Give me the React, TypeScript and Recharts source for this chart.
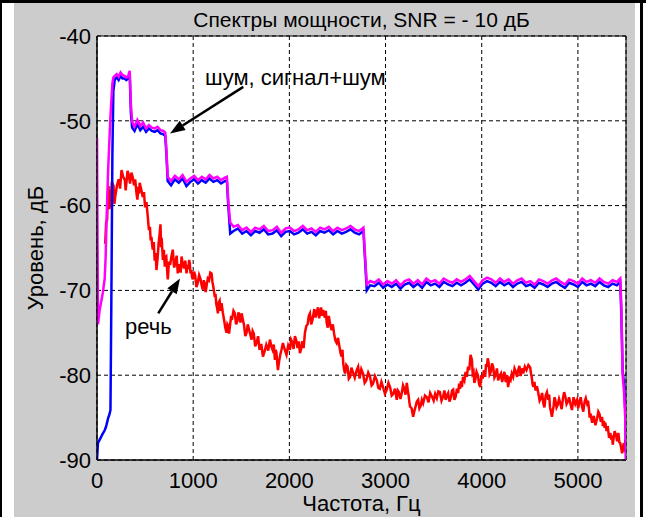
import React from "react";
import {
  LineChart,
  Line,
  XAxis,
  YAxis,
  CartesianGrid,
  ReferenceArea,
  ReferenceLine,
  ReferenceDot,
} from "recharts";

// Оси
const xTicks = [0, 1000, 2000, 3000, 4000, 5000];
const yTicks = [-90, -80, -70, -60, -50, -40];

// Частоты для шума и смеси (Гц)
const noiseFreq = [
  0, 10, 28, 60, 80, 90, 100, 115, 130, 140,
  150, 160, 170, 185, 205, 225, 245, 265, 285, 305,
  325, 340, 352, 365, 390, 420, 450, 480, 510, 540,
  570, 600, 630, 660, 690, 710, 722, 735, 770, 810,
  850, 890, 930, 970, 1010, 1050, 1090, 1130, 1170, 1210,
  1250, 1290, 1330, 1350, 1365, 1385, 1420, 1465, 1510, 1555,
  1600, 1645, 1690, 1735, 1780, 1825, 1870, 1915, 1960, 2005,
  2050, 2095, 2140, 2185, 2230, 2275, 2320, 2365, 2410, 2455,
  2500, 2545, 2590, 2635, 2680, 2725, 2770, 2785, 2805, 2840,
  2885, 2930, 2975, 3020, 3065, 3110, 3155, 3200, 3245, 3290,
  3335, 3380, 3425, 3470, 3515, 3560, 3605, 3650, 3695, 3740,
  3785, 3830, 3875, 3920, 3965, 4010, 4055, 4100, 4145, 4190,
  4235, 4280, 4325, 4370, 4415, 4460, 4505, 4550, 4595, 4640,
  4685, 4730, 4775, 4820, 4865, 4910, 4955, 5000, 5045, 5090,
  5135, 5180, 5225, 5270, 5315, 5360, 5405, 5440, 5452, 5465,
  5480, 5492, 5500,
];

// Шум (синий), дБ
const noiseDb = [
  -90, -88, -87.6, -86.9, -86.5, -86.2, -85.8, -85.1, -84.6, -84.1,
  -70, -54, -46.5, -45.1, -44.9, -45.2, -44.7, -45.0, -45.0, -45.2,
  -45.0, -44.5, -49, -50.8, -51.2, -50.4, -51.1, -50.7, -51.3, -50.9,
  -51.2, -51.3, -51.1, -51.5, -51.6, -51.8, -54, -57.1, -57.6, -56.9,
  -57.3, -56.8, -57.7, -57.2, -56.9, -57.4, -57.0, -57.3, -56.8, -57.2,
  -57.0, -57.4, -57.1, -57.0, -60, -63.3, -63.0, -62.7, -63.3, -63.0,
  -63.5, -63.0, -63.2, -62.8, -63.4, -63.3, -62.9, -63.6, -63.1, -63.0,
  -63.4, -63.2, -62.8, -63.3, -63.1, -63.5, -63.0, -63.2, -62.9, -63.4,
  -63.0, -63.3, -63.1, -62.8, -63.2, -63.4, -63.0, -66, -70.0, -69.4,
  -69.5, -69.1, -69.7, -69.3, -69.6, -69.2, -69.8, -69.3, -69.1, -69.6,
  -69.2, -69.7, -69.0, -69.4, -69.2, -69.6, -69.0, -69.3, -69.5, -69.1,
  -69.4, -69.1, -68.7, -69.3, -69.9, -69.2, -68.9, -69.1, -69.5, -69.0,
  -69.4, -69.1, -69.6, -69.2, -69.0, -69.5, -69.3, -69.7, -69.1, -69.3,
  -69.6, -69.2, -69.0, -69.4, -69.7, -69.1, -69.3, -69.6, -69.0, -69.4,
  -69.2, -69.5, -69.0, -69.4, -69.6, -69.2, -69.4, -69.0, -73, -79.5,
  -81, -84, -90,
];

// Сигнал+шум (пурпурный), дБ
const mixDb = [
  -52, -74, -72.3, -70.3, -68.6, -66, -61.5, -56, -52, -49.5,
  -47.5, -45.6, -44.9, -44.7, -44.5, -44.8, -44.3, -44.6, -44.7, -44.9,
  -44.7, -44.1, -48, -50.1, -50.7, -49.9, -50.6, -50.2, -50.9, -50.5,
  -50.8, -50.9, -50.7, -51.1, -51.2, -51.4, -53.5, -56.6, -57.1, -56.5,
  -56.9, -56.4, -57.2, -56.8, -56.5, -57.0, -56.6, -56.9, -56.4, -56.8,
  -56.6, -57.0, -56.7, -56.6, -59.5, -62.0, -62.5, -62.3, -62.9, -62.6,
  -63.1, -62.6, -62.8, -62.4, -63.0, -62.9, -62.5, -63.2, -62.7, -62.6,
  -63.0, -62.8, -62.4, -62.9, -62.7, -63.1, -62.6, -62.8, -62.5, -63.0,
  -62.6, -62.9, -62.7, -62.4, -62.8, -63.0, -62.6, -65.5, -69.3, -68.9,
  -69.1, -68.7, -69.3, -68.9, -69.2, -68.8, -69.4, -68.9, -68.7, -69.2,
  -68.8, -69.3, -68.6, -69.0, -68.8, -69.2, -68.6, -68.9, -69.1, -68.7,
  -69.0, -68.7, -68.3, -68.9, -69.5, -68.8, -68.5, -68.7, -69.1, -68.6,
  -69.0, -68.7, -69.2, -68.8, -68.6, -69.1, -68.9, -69.3, -68.7, -68.9,
  -69.2, -68.8, -68.6, -69.0, -69.3, -68.7, -68.9, -69.2, -68.6, -69.0,
  -68.8, -69.1, -68.6, -69.0, -69.2, -68.8, -69.0, -68.6, -72, -80,
  -82, -85, -90,
];

// Речь (красный): частоты, Гц
const speechFreq = [
  85, 95, 105, 112, 120, 128, 138, 155, 172, 181,
  190, 208, 225, 240, 255, 272, 290, 298, 306, 318,
  330, 344, 358, 372, 385, 397, 410, 420, 430, 437,
  444, 460, 476, 488, 500, 514, 528, 540, 550, 558,
  566, 573, 580, 590, 600, 609, 618, 630, 640, 650,
  660, 666, 672, 678, 685, 695, 705, 712, 720, 728,
  736, 748, 760, 774, 788, 801, 815, 828, 840, 850,
  860, 870, 879, 892, 905, 918, 931, 940, 950, 958,
  965, 972, 980, 988, 996, 1008, 1020, 1034, 1048, 1062,
  1075, 1088, 1100, 1110, 1120, 1130, 1139, 1152, 1165, 1178,
  1191, 1200, 1210, 1218, 1225, 1232, 1240, 1248, 1257, 1266,
  1275, 1285, 1295, 1308, 1320, 1334, 1347, 1356, 1365, 1373,
  1381, 1393, 1405, 1419, 1433, 1446, 1460, 1470, 1480, 1492,
  1503, 1516, 1530, 1542, 1555, 1568, 1580, 1594, 1607, 1618,
  1630, 1645, 1659, 1675, 1690, 1708, 1725, 1742, 1760, 1780,
  1798, 1812, 1825, 1838, 1850, 1858, 1865, 1873, 1881, 1893,
  1905, 1918, 1933, 1952, 1970, 1988, 2006, 2018, 2030, 2044,
  2058, 2072, 2085, 2098, 2110, 2122, 2135, 2148, 2162, 2176,
  2190, 2202, 2214, 2227, 2240, 2250, 2260, 2272, 2284, 2297,
  2310, 2320, 2330, 2340, 2350, 2360, 2370, 2379, 2388, 2399,
  2410, 2425, 2440, 2452, 2465, 2478, 2492, 2506, 2520, 2532,
  2544, 2552, 2560, 2570, 2579, 2592, 2605, 2618, 2631, 2645,
  2660, 2680, 2700, 2715, 2730, 2748, 2766, 2783, 2800, 2820,
  2839, 2855, 2870, 2890, 2909, 2925, 2940, 2957, 2974, 2994,
  3013, 3030, 3047, 3064, 3080, 3098, 3117, 3128, 3140, 3155,
  3169, 3182, 3195, 3208, 3221, 3230, 3240, 3248, 3255, 3271,
  3287, 3298, 3310, 3325, 3339, 3352, 3365, 3378, 3391, 3410,
  3430, 3447, 3464, 3482, 3500, 3516, 3533, 3549, 3565, 3582,
  3599, 3612, 3625, 3638, 3651, 3665, 3680, 3692, 3703, 3716,
  3730, 3742, 3755, 3765, 3775, 3784, 3793, 3806, 3820, 3832,
  3845, 3858, 3870, 3884, 3898, 3906, 3915, 3923, 3932, 3946,
  3960, 3972, 3984, 3997, 4010, 4023, 4036, 4045, 4055, 4062,
  4070, 4082, 4095, 4107, 4119, 4132, 4145, 4158, 4171, 4186,
  4200, 4212, 4223, 4236, 4250, 4262, 4275, 4288, 4300, 4313,
  4327, 4341, 4355, 4367, 4379, 4392, 4405, 4418, 4431, 4448,
  4465, 4485, 4504, 4512, 4520, 4528, 4536, 4548, 4560, 4574,
  4588, 4602, 4615, 4628, 4640, 4652, 4665, 4678, 4692, 4701,
  4710, 4720, 4730, 4739, 4748, 4756, 4765, 4778, 4790, 4804,
  4817, 4831, 4845, 4857, 4869, 4882, 4895, 4908, 4921, 4938,
  4955, 4973, 4991, 5003, 5015, 5029, 5043, 5056, 5070, 5082,
  5095, 5105, 5115, 5122, 5130, 5148, 5165, 5182, 5199, 5212,
  5225, 5238, 5251, 5260, 5270, 5278, 5285, 5298, 5310, 5324,
  5337, 5346, 5355, 5362, 5369, 5382, 5395, 5408, 5421, 5430,
  5440, 5450, 5460, 5470, 5478, 5486, 5494,
];

// Речь: уровень, дБ
const speechDb = [
  -64.5, -62.0, -61.7, -59.0, -57.7, -60.4, -59.7, -57.2, -57.7, -59.8,
  -58.9, -57.6, -56.9, -58.0, -55.8, -56.6, -57.0, -58.2, -57.3, -55.9,
  -56.4, -57.4, -56.1, -56.7, -57.6, -56.9, -58.5, -59.3, -57.8, -58.6,
  -57.3, -58.1, -59.0, -58.4, -60.2, -59.6, -61.3, -62.9, -62.5, -64.1,
  -63.7, -64.6, -65.2, -64.3, -66.5, -65.6, -67.6, -66.2, -64.5, -63.5,
  -62.2, -64.9, -63.8, -65.0, -66.4, -65.2, -67.2, -66.1, -66.0, -67.4,
  -68.7, -66.6, -67.0, -66.0, -65.2, -67.3, -66.8, -65.9, -68.0, -66.9,
  -67.2, -67.9, -66.0, -66.9, -67.4, -66.5, -68.0, -67.0, -67.5, -66.4,
  -66.8, -68.0, -67.6, -68.4, -68.7, -67.8, -68.2, -69.6, -69.1, -68.2,
  -68.6, -69.4, -69.9, -68.8, -69.2, -70.2, -69.5, -68.6, -68.8, -67.9,
  -68.0, -69.0, -69.6, -70.2, -70.8, -70.4, -71.6, -72.0, -72.7, -71.4,
  -71.2, -72.4, -71.5, -72.6, -73.4, -74.4, -75.0, -74.0, -74.2, -75.1,
  -74.3, -73.2, -73.3, -72.4, -72.7, -74.0, -73.6, -72.6, -72.9, -73.8,
  -72.7, -73.4, -74.2, -75.4, -75.0, -74.0, -74.6, -75.2, -75.8, -74.8,
  -75.1, -76.6, -76.2, -75.4, -77.0, -76.3, -77.8, -77.2, -76.4, -77.1,
  -75.8, -76.6, -77.0, -76.4, -78.2, -77.0, -77.3, -78.4, -79.4, -78.4,
  -77.6, -77.0, -76.2, -77.0, -77.6, -76.5, -77.0, -75.8, -76.1, -76.9,
  -75.4, -75.9, -76.8, -76.0, -77.4, -76.9, -76.0, -76.8, -75.0, -74.2,
  -74.0, -73.0, -72.7, -74.0, -73.5, -72.8, -72.2, -73.2, -72.7, -72.0,
  -73.3, -72.6, -72.0, -73.0, -72.3, -72.9, -73.2, -72.4, -73.8, -74.4,
  -73.0, -74.1, -74.7, -74.0, -75.1, -75.9, -76.2, -75.6, -76.6, -77.4,
  -77.8, -77.0, -78.6, -79.4, -79.8, -78.8, -79.0, -80.4, -80.2, -79.1,
  -79.6, -80.3, -79.4, -79.0, -80.4, -79.3, -79.8, -80.9, -80.6, -79.7,
  -80.2, -81.2, -81.0, -80.1, -80.6, -81.5, -81.6, -80.8, -81.4, -82.2,
  -81.7, -80.9, -81.4, -82.4, -82.2, -81.6, -82.9, -81.8, -82.0, -82.8,
  -82.1, -81.2, -81.6, -82.3, -80.9, -81.7, -82.4, -83.2, -83.7, -83.9,
  -84.9, -84.3, -83.8, -83.1, -82.9, -83.9, -83.6, -82.9, -83.3, -82.4,
  -82.6, -83.2, -82.1, -82.5, -83.0, -82.2, -82.7, -81.9, -82.0, -83.0,
  -82.5, -81.8, -82.9, -82.4, -82.1, -83.1, -82.6, -81.8, -81.7, -82.9,
  -82.5, -81.6, -82.1, -81.0, -81.6, -80.7, -81.4, -80.2, -80.6, -79.6,
  -80.2, -79.0, -79.4, -77.6, -78.2, -79.8, -79.6, -80.9, -80.6, -79.6,
  -80.0, -81.0, -81.4, -80.0, -80.4, -79.4, -80.2, -78.7, -79.0, -78.0,
  -78.4, -79.9, -79.6, -78.6, -79.0, -80.3, -80.0, -79.2, -80.6, -80.1,
  -79.8, -80.8, -80.2, -79.6, -80.8, -80.0, -81.4, -80.4, -80.6, -79.8,
  -80.2, -79.2, -79.6, -80.2, -79.4, -78.9, -80.1, -79.2, -79.8, -79.0,
  -79.4, -78.8, -79.1, -79.8, -80.2, -81.0, -81.4, -80.8, -81.8, -81.3,
  -82.1, -83.0, -82.7, -82.1, -83.3, -83.8, -82.4, -82.0, -82.9, -82.3,
  -83.8, -84.3, -84.9, -84.2, -83.6, -82.6, -82.9, -83.8, -83.5, -82.8,
  -83.3, -84.0, -82.7, -82.0, -82.5, -83.4, -83.1, -82.6, -83.3, -84.1,
  -82.6, -83.4, -82.9, -83.9, -83.2, -82.6, -83.7, -84.3, -83.1, -82.7,
  -83.3, -83.0, -84.0, -85.0, -84.5, -85.6, -84.8, -85.9, -85.1, -84.3,
  -84.6, -85.5, -84.9, -86.0, -85.4, -86.2, -85.6, -86.6, -86.0, -87.4,
  -86.8, -87.6, -87.1, -88.2, -87.6, -86.6, -87.0, -87.8, -86.8, -87.9,
  -88.0, -88.6, -89.2, -88.4, -88.0, -89.0, -87.6,
];

const noiseData = noiseFreq.map((f, i) => ({ f, v: noiseDb[i] }));
const mixData = noiseFreq.map((f, i) => ({ f, v: mixDb[i] }));
const speechData = speechFreq.map((f, i) => ({ f, v: speechDb[i] }));

const FONT = "'Liberation Sans', Arial, Helvetica, sans-serif";

// стрелка: от (x1,y1) к острию (x2,y2)
function Arrow(props: any) {
  const { x1, y1, x2, y2 } = props;
  const ang = Math.atan2(y2 - y1, x2 - x1);
  const len = 15;
  const half = 5.5;
  const bx = x2 - len * Math.cos(ang);
  const by = y2 - len * Math.sin(ang);
  const px = -Math.sin(ang) * half;
  const py = Math.cos(ang) * half;
  return (
    <g>
      <line x1={x1} y1={y1} x2={bx} y2={by} stroke="#000" strokeWidth={2.5} />
      <polygon
        points={`${x2},${y2} ${bx + px},${by + py} ${bx - px},${by - py}`}
        fill="#000"
      />
    </g>
  );
}

function note(text: string) {
  return (props: any) => (
    <text x={props.cx} y={props.cy} fontSize={22} fontFamily={FONT} fill="#000">
      {text}
    </text>
  );
}

export default function App() {
  return (
    <div
      style={{
        position: "absolute",
        left: 0,
        top: 0,
        width: 646,
        height: 517,
        background: "#fff",
        overflow: "hidden",
      }}
    >
      {/* рамка скриншота */}
      <div style={{ position: "absolute", left: 0, top: 0, width: 646, height: 3, background: "#000" }} />
      <div style={{ position: "absolute", left: 0, top: 0, width: 2, height: 517, background: "#000" }} />
      <div style={{ position: "absolute", left: 640, top: 3, width: 3, height: 514, background: "#000" }} />
      <div style={{ position: "absolute", left: 14, top: 3, width: 621, height: 514, background: "#cccccc" }} />

      <div style={{ position: "absolute", left: 0, top: 0 }}>
        <LineChart width={646} height={517} margin={{ top: 36, right: 20, bottom: 27, left: 37 }}>
          <CartesianGrid stroke="#000" strokeDasharray="4 3" fill="#ffffff" fillOpacity={1} />
          <XAxis
            type="number"
            dataKey="f"
            domain={[0, 5500]}
            ticks={xTicks}
            height={30}
            tickSize={0}
            tickMargin={12}
            tickLine={false}
            axisLine={{ stroke: "#000" }}
            tick={{ fill: "#000", fontSize: 22, fontFamily: FONT }}
            allowDataOverflow
          />
          <YAxis
            type="number"
            domain={[-90, -40]}
            ticks={yTicks}
            width={60}
            tickSize={0}
            tickMargin={6}
            tickLine={false}
            axisLine={{ stroke: "#000" }}
            tick={{ fill: "#000", fontSize: 22, fontFamily: FONT }}
            allowDataOverflow
          />
          <Line
            data={speechData}
            dataKey="v"
            stroke="#ff0000"
            strokeWidth={2.5}
            dot={false}
            isAnimationActive={false}
          />
          <Line
            data={noiseData}
            dataKey="v"
            stroke="#0000ff"
            strokeWidth={2.5}
            dot={false}
            isAnimationActive={false}
          />
          <Line
            data={mixData}
            dataKey="v"
            stroke="#ff00ff"
            strokeWidth={2.5}
            dot={false}
            isAnimationActive={false}
          />
          <ReferenceArea x1={0} x2={5500} y1={-90} y2={-40} fill="none" stroke="#000" strokeWidth={1} />
          <ReferenceLine
            segment={[
              { x: 1521, y: -46.0 },
              { x: 759, y: -51.5 },
            ]}
            shape={Arrow}
          />
          <ReferenceLine
            segment={[
              { x: 637, y: -72.7 },
              { x: 863, y: -68.6 },
            ]}
            shape={Arrow}
          />
          <ReferenceDot x={1123} y={-45.8} r={0} shape={note("шум, сигнал+шум")} />
          <ReferenceDot x={291} y={-75.1} r={0} shape={note("речь")} />
        </LineChart>
      </div>

      <svg
        width={646}
        height={517}
        style={{ position: "absolute", left: 0, top: 0, pointerEvents: "none" }}
      >
        <text x={361.5} y={27} textAnchor="middle" fontSize={21} fontFamily={FONT} fill="#000">
          Спектры мощности, SNR = - 10 дБ
        </text>
        <text x={361.5} y={511} textAnchor="middle" fontSize={22} fontFamily={FONT} fill="#000">
          Частота, Гц
        </text>
        <text
          x={0}
          y={0}
          transform="translate(43 248) rotate(-90)"
          textAnchor="middle"
          fontSize={22}
          fontFamily={FONT}
          fill="#000"
        >
          Уровень, дБ
        </text>
      </svg>
    </div>
  );
}
